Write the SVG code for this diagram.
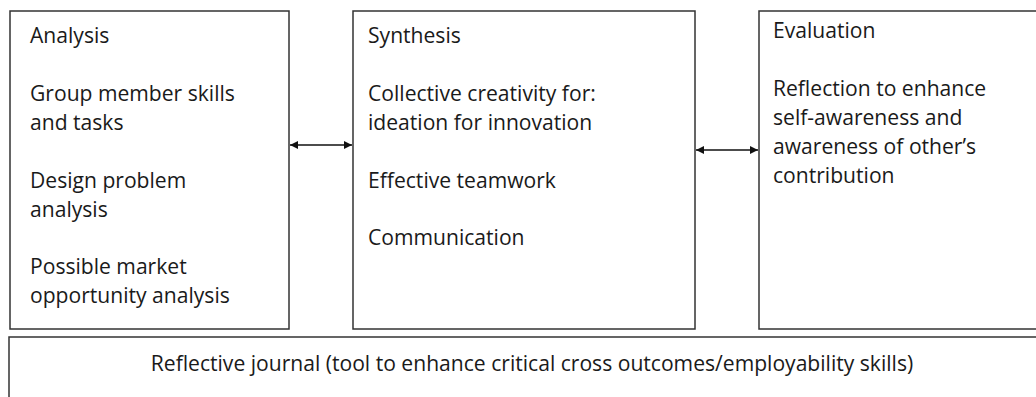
<svg xmlns="http://www.w3.org/2000/svg" width="1036" height="397" viewBox="0 0 1036 397">
<style>
.box{fill:#fff;stroke:#333;stroke-width:1.5}
.t{font-family:"Open Sans","Noto Sans",sans-serif;font-size:21.1px;fill:#1a1a1a}
.c{stroke:#111;stroke-width:1.3;fill:none}
</style>
<defs>
<marker id="ah" viewBox="0 0 10 10" refX="10" refY="5" markerWidth="8" markerHeight="8" markerUnits="userSpaceOnUse" orient="auto-start-reverse">
<path d="M0,0 L10,5 L0,10 Z" fill="#111"/>
</marker>
</defs>
<rect width="1036" height="397" fill="#fff"/>
<g id="analysis">
<rect class="box" x="10" y="11" width="279" height="318"/>
<text class="t" x="30" y="43">Analysis</text>
<text class="t" x="30" y="101">Group member skills</text>
<text class="t" x="30" y="130">and tasks</text>
<text class="t" x="30" y="188">Design problem</text>
<text class="t" x="30" y="217">analysis</text>
<text class="t" x="30" y="274">Possible market</text>
<text class="t" x="30" y="303">opportunity analysis</text>
</g>
<g id="synthesis">
<rect class="box" x="353" y="11" width="342" height="318"/>
<text class="t" x="368" y="43">Synthesis</text>
<text class="t" x="368" y="101">Collective creativity for:</text>
<text class="t" x="368" y="130">ideation for innovation</text>
<text class="t" x="368" y="188">Effective teamwork</text>
<text class="t" x="368" y="245">Communication</text>
</g>
<g id="evaluation">
<rect class="box" x="759" y="11" width="290" height="318"/>
<text class="t" x="773" y="38">Evaluation</text>
<text class="t" x="773" y="96">Reflection to enhance</text>
<text class="t" x="773" y="125">self-awareness and</text>
<text class="t" x="773" y="154">awareness of other’s</text>
<text class="t" x="773" y="183">contribution</text>
</g>
<g id="journal">
<rect class="box" x="9" y="337" width="1040" height="80"/>
<text class="t" x="532" y="371" text-anchor="middle">Reflective journal (tool to enhance critical cross outcomes/employability skills)</text>
</g>
<g id="connectors">
<line class="c" x1="290" y1="145" x2="352" y2="145" marker-start="url(#ah)" marker-end="url(#ah)"/>
<line class="c" x1="696" y1="150" x2="758" y2="150" marker-start="url(#ah)" marker-end="url(#ah)"/>
</g>
</svg>
